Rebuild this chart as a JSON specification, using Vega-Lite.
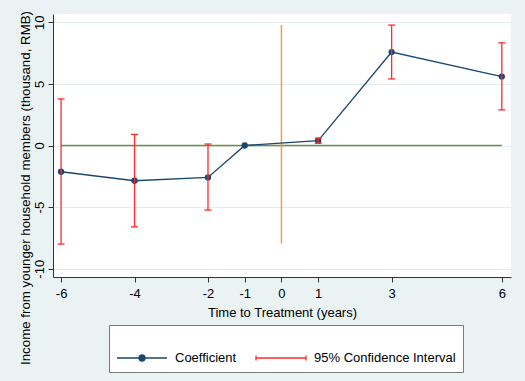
{
  "$schema": "https://vega.github.io/schema/vega-lite/v6.json",
  "width": 458,
  "height": 263,
  "autosize": {"type": "none"},
  "padding": {"left": 53, "top": 14, "right": 14, "bottom": 104},
  "background": "#eaf2f3",
  "config": {
    "view": {"stroke": null, "fill": "white"},
    "font": "Liberation Sans",
    "axis": {
      "domainColor": "#333333",
      "tickColor": "#333333",
      "tickSize": 5,
      "labelFontSize": 13,
      "titleFontSize": 13,
      "labelColor": "#000000",
      "titleColor": "#000000",
      "titleFontWeight": "normal",
      "labelPadding": 5,
      "labelExpr": "'' + datum.value"
    }
  },
  "data": {
    "values": [
      {"t": -6, "coef": -2.13, "lo": -8.0, "hi": 3.78},
      {"t": -4, "coef": -2.86, "lo": -6.6, "hi": 0.9},
      {"t": -2, "coef": -2.59, "lo": -5.24, "hi": 0.12},
      {"t": -1, "coef": 0, "lo": null, "hi": null},
      {"t": 1, "coef": 0.39, "lo": 0.18, "hi": 0.6},
      {"t": 3, "coef": 7.58, "lo": 5.4, "hi": 9.77},
      {"t": 6, "coef": 5.59, "lo": 2.89, "hi": 8.33}
    ]
  },
  "layer": [
    {
      "data": {"values": [{"xa": -6, "xb": 6, "y": 0}]},
      "mark": {"type": "rule", "color": "#6f8f45", "strokeWidth": 1.3},
      "encoding": {
        "x": {"field": "xa", "type": "quantitative"},
        "x2": {"field": "xb"},
        "y": {"field": "y", "type": "quantitative"}
      }
    },
    {
      "data": {"values": [{"x": 0, "ya": -7.95, "yb": 9.77}]},
      "mark": {"type": "rule", "color": "#eea040", "strokeWidth": 1.5},
      "encoding": {
        "x": {"field": "x", "type": "quantitative"},
        "y": {"field": "ya", "type": "quantitative"},
        "y2": {"field": "yb"}
      }
    },
    {
      "mark": {"type": "line", "strokeWidth": 1.3},
      "encoding": {
        "x": {
          "field": "t",
          "type": "quantitative",
          "scale": {"domain": [-6.22, 6.25], "nice": false, "zero": false},
          "axis": {
            "values": [-6, -4, -2, -1, 0, 1, 3, 6],
            "grid": false,
            "title": "Time to Treatment (years)",
            "titleBaseline": "alphabetic",
            "titleY": 39.5
          }
        },
        "y": {
          "field": "coef",
          "type": "quantitative",
          "scale": {"domain": [-10.67, 10.67], "nice": false, "zero": false},
          "axis": {
            "values": [-10, -5, 0, 5, 10],
            "grid": true,
            "gridColor": "#e3ecef",
            "gridWidth": 1.2,
            "labelAngle": 270,
            "labelAlign": "center",
            "labelBaseline": "alphabetic",
            "title": "Income from younger household members (thousand, RMB)",
            "titleFontSize": 13.3,
            "titleAngle": 270,
            "titleAlign": "center",
            "titleBaseline": "bottom",
            "titleX": -21,
            "titleY": 173.5
          }
        },
        "color": {
          "datum": "Coefficient",
          "type": "nominal",
          "scale": {
            "domain": ["Coefficient", "95% Confidence Interval"],
            "range": ["#1a476f", "#ff2a2a"]
          },
          "legend": {
            "orient": "none",
            "legendX": 56,
            "legendY": 311,
            "direction": "horizontal",
            "title": null,
            "fillColor": "white",
            "strokeColor": "#7a7a7a",
            "padding": 7,
            "labelFontSize": 13,
            "labelColor": "#000000",
            "labelOffset": 7,
            "columnPadding": 16,
            "symbolSize": 2500,
            "encode": {
              "symbols": {
                "update": {
                  "shape": {"signal": "datum.value === 'Coefficient' ? 'M-1,0H1M-0.12,0A0.12,0.12 0 1,0 0.12,0A0.12,0.12 0 1,0 -0.12,0Z' : 'M-1,0H1M-1,-0.1V0.1M1,-0.1V0.1'"},
                  "fill": {"signal": "datum.value === 'Coefficient' ? '#1a476f' : 'transparent'"},
                  "stroke": {"signal": "datum.value === 'Coefficient' ? '#1a476f' : '#ff2a2a'"},
                  "strokeWidth": {"value": 1.3},
                  "size": {"value": 2500},
                  "opacity": {"value": 1}
                }
              }
            }
          }
        }
      }
    },
    {
      "mark": {"type": "point", "filled": true, "size": 40, "opacity": 1},
      "encoding": {
        "x": {"field": "t", "type": "quantitative"},
        "y": {"field": "coef", "type": "quantitative"},
        "color": {"datum": "Coefficient", "type": "nominal"}
      }
    },
    {
      "mark": {"type": "rule", "strokeWidth": 1.3},
      "encoding": {
        "x": {"field": "t", "type": "quantitative"},
        "y": {"field": "lo", "type": "quantitative"},
        "y2": {"field": "hi"},
        "color": {"datum": "95% Confidence Interval", "type": "nominal"}
      }
    },
    {
      "mark": {"type": "tick", "orient": "horizontal", "size": 7, "thickness": 1.3, "opacity": 1},
      "encoding": {
        "x": {"field": "t", "type": "quantitative"},
        "y": {"field": "lo", "type": "quantitative"},
        "color": {"datum": "95% Confidence Interval", "type": "nominal"}
      }
    },
    {
      "mark": {"type": "tick", "orient": "horizontal", "size": 7, "thickness": 1.3, "opacity": 1},
      "encoding": {
        "x": {"field": "t", "type": "quantitative"},
        "y": {"field": "hi", "type": "quantitative"},
        "color": {"datum": "95% Confidence Interval", "type": "nominal"}
      }
    }
  ]
}
